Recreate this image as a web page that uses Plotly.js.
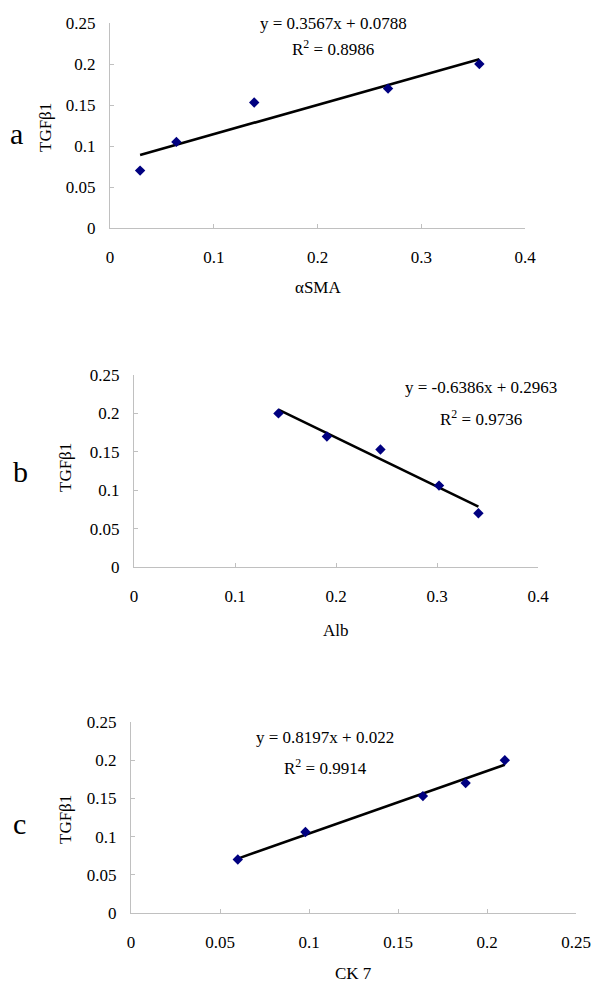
<!DOCTYPE html>
<html>
<head>
<meta charset="utf-8">
<script src="https://cdn.plot.ly/plotly-3.0.1.min.js"></script>
<style>html,body{margin:0;padding:0;background:#fff;}#chart{width:600px;height:989px;}</style>
</head>
<body>
<div id="chart"></div>
<script>
// TGFβ1 values (shared y series)
const tgfA = [0.070, 0.105, 0.153, 0.170, 0.200];
const smaX = [0.029, 0.064, 0.139, 0.268, 0.356];
const tgfB = [0.200, 0.170, 0.153, 0.106, 0.070];
const albX = [0.143, 0.191, 0.244, 0.302, 0.341];
const tgfC = [0.070, 0.106, 0.153, 0.170, 0.200];
const ck7X = [0.060, 0.098, 0.164, 0.188, 0.210];

const slopes = [0.3567, -0.6386, 0.8197];
const intercepts = [0.0788, 0.2963, 0.022];
const eqTexts = ["y = 0.3567x + 0.0788", "y = -0.6386x + 0.2963", "y = 0.8197x + 0.022"];
const r2Texts = ["R<sup>2</sup> = 0.8986", "R<sup>2</sup> = 0.9736", "R<sup>2</sup> = 0.9914"];
const xTitles = ["αSMA", "Alb", "CK 7"];
const yTitle = "TGFβ1";
const panelLetters = ["a", "b", "c"];
const xTickVals = [[0, 0.1, 0.2, 0.3, 0.4], [0, 0.1, 0.2, 0.3, 0.4], [0, 0.05, 0.1, 0.15, 0.2, 0.25]];
const xTickText = [["0", "0.1", "0.2", "0.3", "0.4"], ["0", "0.1", "0.2", "0.3", "0.4"], ["0", "0.05", "0.1", "0.15", "0.2", "0.25"]];
const yTickVals = [0, 0.05, 0.1, 0.15, 0.2, 0.25];
const yTickText = ["0", "0.05", "0.1", "0.15", "0.2", "0.25"];
const xRanges = [[0, 0.4], [0, 0.4], [0, 0.25]];

const W = 600, H = 989;
// pixel layout of plot areas: [left, right, top(0.25), bottom(0)]
const boxes = [[110, 525, 23, 228], [134, 538, 375, 567], [131, 576, 722, 913]];
const eqPos = [[333, 23, 48], [481, 388, 418], [325, 737, 767]];
const letterPos = [[16, 133], [20, 472], [19, 823]];
const yTitlePos = [[46, 128], [65, 468], [65, 820]];
const xTitleY = [287, 630, 973];

const xs = [smaX, albX, ck7X];
const ys = [tgfA, tgfB, tgfC];
const FONT = "Liberation Serif";

const traces = [];
const layout = {
  width: W, height: H,
  margin: {l: 0, r: 0, t: 0, b: 0},
  paper_bgcolor: "#fff", plot_bgcolor: "#fff",
  showlegend: false,
  font: {family: FONT, size: 17, color: "#000"},
  annotations: []
};
const px = v => v / W;
const py = v => 1 - v / H;

for (let i = 0; i < 3; i++) {
  const xa = i === 0 ? "x" : "x" + (i + 1);
  const ya = i === 0 ? "y" : "y" + (i + 1);
  const xmin = Math.min(...xs[i]), xmax = Math.max(...xs[i]);
  traces.push({
    x: [xmin, xmax],
    y: [slopes[i] * xmin + intercepts[i], slopes[i] * xmax + intercepts[i]],
    xaxis: xa, yaxis: ya, mode: "lines", type: "scatter",
    line: {color: "#000", width: 2.6}, hoverinfo: "skip"
  });
  traces.push({
    x: xs[i], y: ys[i], xaxis: xa, yaxis: ya, mode: "markers", type: "scatter",
    marker: {symbol: "diamond", size: 8, color: "#000080"}
  });
  const b = boxes[i];
  const axKeyX = i === 0 ? "xaxis" : "xaxis" + (i + 1);
  const axKeyY = i === 0 ? "yaxis" : "yaxis" + (i + 1);
  layout[axKeyX] = {
    domain: [px(b[0]), px(b[1])], anchor: ya, range: xRanges[i],
    tickvals: xTickVals[i], ticktext: xTickText[i],
    showgrid: false, zeroline: false, showline: true, linecolor: "#c0c0c0", linewidth: 1,
    ticks: "inside", ticklen: 4, tickcolor: "#c0c0c0", ticklabelstandoff: 14,
    tickfont: {family: FONT, size: 17, color: "#000"}
  };
  layout[axKeyY] = {
    domain: [py(b[3]), py(b[2])], anchor: xa, range: [0, 0.25],
    tickvals: yTickVals, ticktext: yTickText,
    showgrid: false, zeroline: false, showline: true, linecolor: "#c0c0c0", linewidth: 1,
    ticks: "inside", ticklen: 4, tickcolor: "#c0c0c0", ticklabelstandoff: 10,
    tickfont: {family: FONT, size: 17, color: "#000"}
  };
  const e = eqPos[i];
  layout.annotations.push({xref: "paper", yref: "paper", x: px(e[0]), y: py(e[1]), text: eqTexts[i], showarrow: false, xanchor: "center", yanchor: "middle", font: {family: FONT, size: 17}});
  layout.annotations.push({xref: "paper", yref: "paper", x: px(e[0]), y: py(e[2]), text: r2Texts[i], showarrow: false, xanchor: "center", yanchor: "middle", font: {family: FONT, size: 17}});
  layout.annotations.push({xref: "paper", yref: "paper", x: px(letterPos[i][0]), y: py(letterPos[i][1]), text: panelLetters[i], showarrow: false, xanchor: "center", yanchor: "middle", font: {family: FONT, size: 30}});
  layout.annotations.push({xref: "paper", yref: "paper", x: px(yTitlePos[i][0]), y: py(yTitlePos[i][1]), text: yTitle, textangle: -90, showarrow: false, xanchor: "center", yanchor: "middle", font: {family: FONT, size: 17}});
  layout.annotations.push({xref: "paper", yref: "paper", x: px((b[0] + b[1]) / 2), y: py(xTitleY[i]), text: xTitles[i], showarrow: false, xanchor: "center", yanchor: "middle", font: {family: FONT, size: 17}});
}

Plotly.newPlot("chart", traces, layout, {staticPlot: true, displayModeBar: false});
</script>
</body>
</html>
